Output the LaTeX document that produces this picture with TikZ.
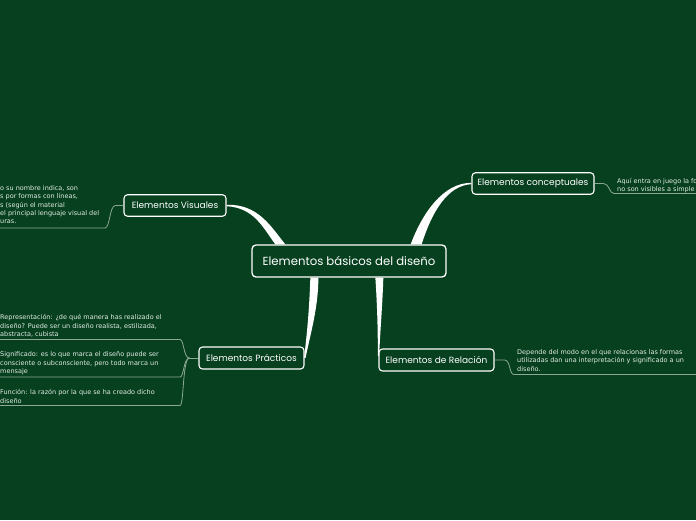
\documentclass[tikz,border=0pt]{standalone}
\usepackage{fontspec}
\setmainfont{DejaVu Sans}
\newfontfamily\titlefont{Poppins}
\usetikzlibrary{calc}
\definecolor{bg}{HTML}{06401F}
\definecolor{leafcol}{HTML}{8CA894}
\definecolor{leaftext}{HTML}{E4ECE4}
\tikzset{
  mainbox/.style={draw=white, line width=1.3pt, rounded corners=4pt, fill=bg,
    minimum width=194pt, minimum height=32pt, inner sep=0pt,
    font=\titlefont\fontsize{11.7}{13}\selectfont, text=white},
  subbox/.style={draw=white, line width=1.1pt, rounded corners=3.5pt, fill=bg,
    minimum height=21.5pt, inner sep=0pt,
    font=\titlefont\fontsize{9}{10}\selectfont, text=white},
  leaf/.style={font=\fontsize{6.5}{8.3}\selectfont, text=leaftext, align=left,
    inner sep=0pt, anchor=north west},
  leafline/.style={draw=leafcol, line width=0.8pt},
  trunk/.style={fill=white, draw=none}
}
\begin{document}
\begin{tikzpicture}[x=1pt,y=-1pt]
\useasboundingbox[fill=bg] (0,0) rectangle (696,520);
\clip (0,0) rectangle (696,520);

% nodes
\node[mainbox] (c) at (349,261) {Elementos básicos del diseño};
\node[subbox, minimum width=102pt] (vis) at (175,205.5) {Elementos Visuales};
\node[subbox, minimum width=122pt] (conc) at (533,183.5) {Elementos conceptuales};
\node[subbox, minimum width=105pt, minimum height=22pt] (prac) at (251.5,358) {Elementos Prácticos};
\node[subbox, minimum width=115pt, minimum height=22pt] (rel) at (436.5,360) {Elementos de Relación};

% trunks
\fill[trunk] ($(vis.east)+(0,-0.7)$) .. controls +(32,-1) and +(-14,-17) .. ($(c.north west)+(34,0)$)
  -- ($(c.north west)+(24,0)$) .. controls +(-12,-16) and +(28,1.5) .. ($(vis.east)+(0,0.7)$) -- cycle;
\fill[trunk] ($(conc.west)+(0,-0.7)$) .. controls +(-28,0) and +(12,-32) .. ($(c.north east)+(-36,0)$)
  -- ($(c.north east)+(-25,0)$) .. controls +(10,-32) and +(-24,1) .. ($(conc.west)+(0,0.7)$) -- cycle;
\fill[trunk] ($(c.south west)+(59,0)$) .. controls +(-1,30) and +(3,-25) .. ($(prac.east)+(-0.4,-0.5)$)
  -- ($(prac.east)+(1,0)$) .. controls +(5,-25) and +(0,30) .. ($(c.south west)+(67,0)$) -- cycle;
\fill[trunk] ($(c.south west)+(124,0)$) .. controls +(2,30) and +(0,-25) .. ($(rel.west)+(-0.6,-4)$)
  -- ($(rel.west)+(0.7,-4)$) .. controls +(1,-25) and +(-1,30) .. ($(c.south west)+(132,0)$) -- cycle;

% leaf ends
\coordinate (visend) at (0,228);
\coordinate (concend) at (696,193.5);
\coordinate (pracA) at (0,339.5);
\coordinate (pracB) at (0,377);
\coordinate (pracC) at (0,405.5);
\coordinate (relend) at (696,374.5);

% leaf lines
\draw[leafline] (vis.west) -- ++(-8,0) .. controls +(-6,0) and +(5,0) .. (105,228) -- (visend);
\draw[leafline] (conc.east) -- ++(9,0) .. controls +(6,0) and +(-5,0) .. (614,193.5) -- (concend);
\draw[leafline] (prac.west) -- ++(-9,0) coordinate (pj);
\draw[leafline] (pj) .. controls +(-6,0) and +(4,0) .. (180,339.5) -- (pracA);
\draw[leafline] (pj) .. controls +(-6,0) and +(4,0) .. (180,377) -- (pracB);
\draw[leafline] (pj) .. controls +(-7,0) and +(4,0) .. (180,405.5) -- (pracC);
\draw[leafline] (rel.east) -- ++(10,0) .. controls +(6,0) and +(-5,0) .. (514,374.5) -- (relend);

% leaf texts
\node[leaf] (vist) at (0,185.3) {o su nombre indica, son\\s por formas con líneas,\\s (según el material\\el principal lenguaje visual del\\uras.};
\node[leaf] (conct) at (617,177.8) {Aquí entra en juego la fo\\no son visibles a simple};
\node[leaf] (prat1) at (0,314.3) {Representación: ¿de qué manera has realizado el\\diseño? Puede ser un diseño realista, estilizada,\\abstracta, cubista};
\node[leaf] (prat2) at (0,351.5) {Significado: es lo que marca el diseño puede ser\\consciente o subconsciente, pero todo marca un\\mensaje};
\node[leaf] (prat3) at (0,389.3) {Función: la razón por la que se ha creado dicho\\diseño};
\node[leaf] (relt) at (517,349.3) {Depende del modo en el que relacionas las formas\\utilizadas dan una interpretación y significado a un\\diseño.};
\end{tikzpicture}
\end{document}
